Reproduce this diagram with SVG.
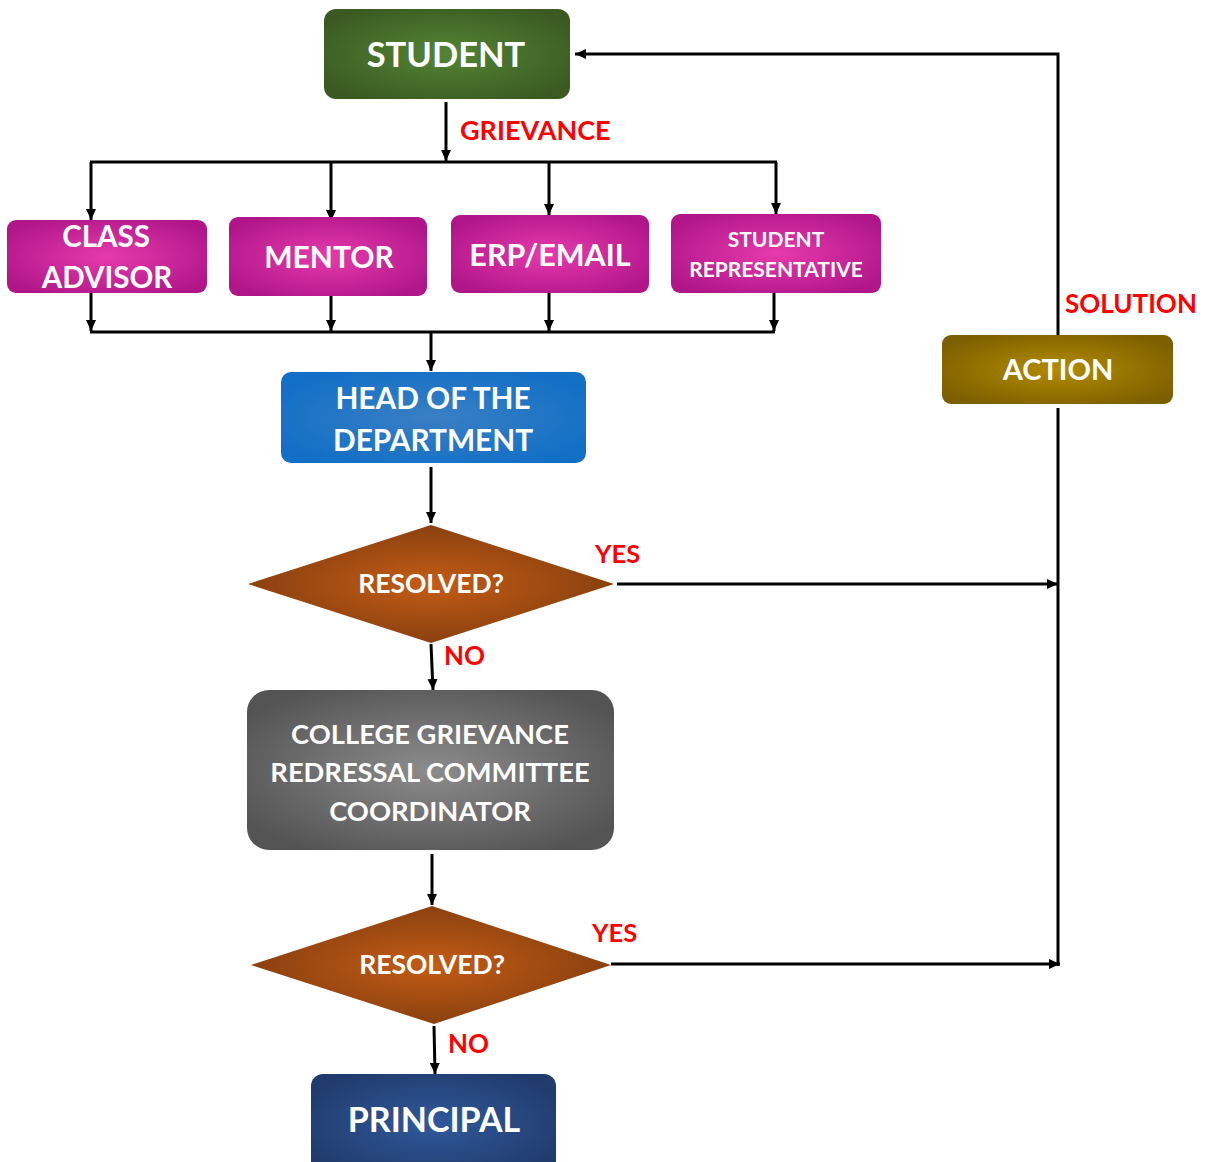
<svg xmlns="http://www.w3.org/2000/svg" width="1207" height="1162" viewBox="0 0 1207 1162">
<defs>
<radialGradient id="gGreen" cx="50%" cy="50%" r="60%"><stop offset="0" stop-color="#548533"/><stop offset="1" stop-color="#3a5a22"/></radialGradient>
<radialGradient id="gMag" cx="50%" cy="50%" r="60%"><stop offset="0" stop-color="#e63aac"/><stop offset="1" stop-color="#b01689"/></radialGradient>
<radialGradient id="gBlue" cx="50%" cy="50%" r="60%"><stop offset="0" stop-color="#3a7fc4"/><stop offset="1" stop-color="#116fc6"/></radialGradient>
<radialGradient id="gDia" cx="50%" cy="50%" r="55%"><stop offset="0" stop-color="#c45c16"/><stop offset="1" stop-color="#843e0e"/></radialGradient>
<radialGradient id="gGray" cx="50%" cy="50%" r="60%"><stop offset="0" stop-color="#8c8c8c"/><stop offset="1" stop-color="#545454"/></radialGradient>
<radialGradient id="gNavy" cx="50%" cy="50%" r="60%"><stop offset="0" stop-color="#30599b"/><stop offset="1" stop-color="#203b6c"/></radialGradient>
<radialGradient id="gGold" cx="50%" cy="50%" r="60%"><stop offset="0" stop-color="#b38c00"/><stop offset="1" stop-color="#7c5f00"/></radialGradient>
<marker id="arr" markerUnits="userSpaceOnUse" markerWidth="12" markerHeight="12" refX="11" refY="6" orient="auto"><path d="M0,1 L11,6 L0,11 z" fill="#000"/></marker>
<style>
.t{font-family:Lato,"Open Sans","Liberation Sans",sans-serif;font-weight:700;fill:#fff;text-anchor:middle}
.lbl{font-family:Lato,"Open Sans","Liberation Sans",sans-serif;font-weight:700;fill:#ff0000}
.c{fill:none;stroke:#000;stroke-width:3}
.a{fill:none;stroke:#000;stroke-width:3;marker-end:url(#arr)}
</style>
</defs>
<rect width="1207" height="1162" fill="#fff"/>

<g id="connectors">
<polyline class="a" points="1058,335 1058,54 575,54"/>
<line class="a" x1="446" y1="102" x2="446" y2="161"/>
<line class="c" x1="90" y1="162" x2="777" y2="162"/>
<line class="a" x1="91" y1="162" x2="91" y2="220"/>
<line class="a" x1="331" y1="162" x2="331" y2="221"/>
<line class="a" x1="549" y1="162" x2="549" y2="215"/>
<line class="a" x1="776" y1="162" x2="776" y2="214"/>
<line class="a" x1="91" y1="293" x2="91" y2="331"/>
<line class="a" x1="331" y1="296" x2="331" y2="331"/>
<line class="a" x1="549" y1="293" x2="549" y2="331"/>
<line class="a" x1="774" y1="293" x2="774" y2="331"/>
<line class="c" x1="90" y1="332" x2="775" y2="332"/>
<line class="a" x1="431" y1="332" x2="431" y2="371"/>
<line class="a" x1="431" y1="467" x2="431" y2="523"/>
<line class="a" x1="617" y1="584" x2="1058" y2="584"/>
<line class="a" x1="431" y1="644" x2="433" y2="690"/>
<line class="a" x1="432" y1="854" x2="432" y2="905"/>
<line class="c" x1="1058" y1="408" x2="1058" y2="966"/>
<line class="a" x1="611" y1="964" x2="1060" y2="964"/>
<line class="a" x1="434" y1="1026" x2="435" y2="1074"/>
<text class="lbl" x="460" y="140" font-size="27">GRIEVANCE</text>
<text class="lbl" x="1065" y="313" font-size="26">SOLUTION</text>
<text class="lbl" x="595" y="563" font-size="25.5">YES</text>
<text class="lbl" x="444" y="665" font-size="26">NO</text>
<text class="lbl" x="592" y="942" font-size="25.5">YES</text>
<text class="lbl" x="448" y="1053" font-size="26">NO</text>
</g>

<g id="student"><rect x="324" y="9" width="246" height="90" rx="12" fill="url(#gGreen)"/><text class="t" x="446" y="67" font-size="34.5">STUDENT</text></g>
<g id="class-advisor"><rect x="7" y="220" width="200" height="73" rx="9" fill="url(#gMag)"/><text class="t" x="106" y="247" font-size="29.5">CLASS</text><text class="t" x="107" y="288" font-size="29.5">ADVISOR</text></g>
<g id="mentor"><rect x="229" y="217" width="198" height="79" rx="9" fill="url(#gMag)"/><text class="t" x="329" y="268" font-size="30">MENTOR</text></g>
<g id="erp-email"><rect x="451" y="215" width="198" height="78" rx="9" fill="url(#gMag)"/><text class="t" x="550" y="266" font-size="30.5">ERP/EMAIL</text></g>
<g id="student-rep"><rect x="671" y="214" width="210" height="79" rx="9" fill="url(#gMag)"/><text class="t" x="776" y="247" font-size="21">STUDENT</text><text class="t" x="776" y="277" font-size="21">REPRESENTATIVE</text></g>
<g id="hod"><rect x="281" y="372" width="305" height="91" rx="10" fill="url(#gBlue)"/><text class="t" x="433" y="409" font-size="29.8">HEAD OF THE</text><text class="t" x="433" y="451" font-size="29.8">DEPARTMENT</text></g>
<g id="resolved1"><polygon points="248,584 431,525 614,584 431,643" fill="url(#gDia)"/><text class="t" x="431" y="593" font-size="26.5">RESOLVED?</text></g>
<g id="cgrc"><rect x="247" y="690" width="367" height="160" rx="22" fill="url(#gGray)"/><text class="t" x="430" y="744" font-size="27.3">COLLEGE GRIEVANCE</text><text class="t" x="430" y="782" font-size="27.3">REDRESSAL COMMITTEE</text><text class="t" x="430" y="821" font-size="27.3">COORDINATOR</text></g>
<g id="resolved2"><polygon points="251,965 432,906 611,965 434,1024" fill="url(#gDia)"/><text class="t" x="432" y="974" font-size="26.5">RESOLVED?</text></g>
<g id="principal"><rect x="311" y="1074" width="245" height="100" rx="12" fill="url(#gNavy)"/><text class="t" x="434" y="1132" font-size="34">PRINCIPAL</text></g>
<g id="action"><rect x="942" y="335" width="231" height="69" rx="9" fill="url(#gGold)"/><text class="t" x="1058" y="380" font-size="29">ACTION</text></g>
</svg>
